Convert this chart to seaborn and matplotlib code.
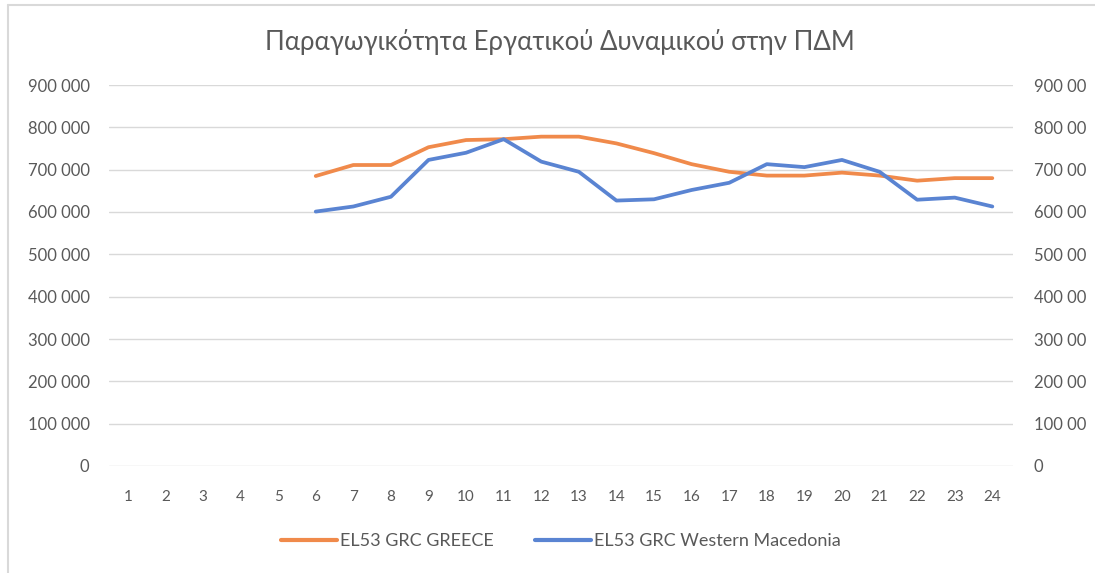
import matplotlib
matplotlib.use("Agg")
import matplotlib.pyplot as plt
import seaborn as sns
import pandas as pd
from matplotlib.lines import Line2D

# ---- data ----
periods = list(range(1, 25))
greece = [None] * 5 + [685000, 711000, 711000, 753000, 770000, 772000, 778000, 778000,
                       762000, 739000, 713000, 695000, 686000, 686000, 693000, 686000,
                       674000, 680000, 680000]
west_mac = [None] * 5 + [601000, 613000, 636000, 723000, 740000, 772000, 719000, 695000,
                         627000, 630000, 652000, 669000, 713000, 706000, 723000, 695000,
                         629000, 634000, 613000]
series_names = ["EL53 GRC GREECE", "EL53 GRC Western Macedonia"]
title = "Παραγωγικότητα Εργατικού Δυναμικού στην ΠΔΜ"
y_ticks = [0, 100000, 200000, 300000, 400000, 500000, 600000, 700000, 800000, 900000]
left_labels = ["0", "100 000", "200 000", "300 000", "400 000", "500 000",
               "600 000", "700 000", "800 000", "900 000"]
right_labels = ["0", "100 00", "200 00", "300 00", "400 00", "500 00",
                "600 00", "700 00", "800 00", "900 00"]

df = pd.DataFrame({"period": periods * 2,
                   "value": greece + west_mac,
                   "series": [series_names[0]] * 24 + [series_names[1]] * 24}).dropna()

sns.set_theme(style="white")
plt.rcParams["font.family"] = ["Lato", "DejaVu Sans"]

grey = "#595959"
c_orange = "#F08A4B"
c_blue = "#5A84D2"
fig = plt.figure(figsize=(10.95, 5.73), dpi=100)
ax = fig.add_axes([109 / 1095, 1 - 466 / 573, (1013 - 109) / 1095, (466 - 85) / 573])

sns.lineplot(data=df, x="period", y="value", hue="series",
             palette=[c_orange, c_blue], linewidth=2.7, ax=ax, legend=False)

ax.set_xlim(0.5, 24.55)
ax.set_ylim(0, 900000)
ax.set_yticks(y_ticks)
ax.set_yticklabels(left_labels)
ax.set_xticks(periods)
ax.set_xticklabels([str(p) for p in periods])
ax.grid(axis="y", color="#D9D9D9", linewidth=1)
ax.set_axisbelow(True)
for s in ax.spines.values():
    s.set_visible(False)
ax.set_xlabel("")
ax.set_ylabel("")
ax.tick_params(axis="y", colors=grey, labelsize=12, length=0, pad=14)
ax.tick_params(axis="x", colors=grey, labelsize=11, length=0, pad=17)

ax2 = ax.twinx()
ax2.set_ylim(0, 900000)
ax2.set_yticks(y_ticks)
ax2.set_yticklabels(right_labels)
for s in ax2.spines.values():
    s.set_visible(False)
ax2.tick_params(axis="y", colors=grey, labelsize=12, length=0, pad=15)
ax2.grid(False)

fig.text(560 / 1095, 1 - 42 / 573, title, ha="center", va="center",
         fontsize=18.5, color=grey)

handles = [Line2D([0], [0], color=c_orange, lw=3),
           Line2D([0], [0], color=c_blue, lw=3)]
fig.legend(handles, series_names, loc="center", bbox_to_anchor=(561 / 1095, 1 - 541 / 573),
           ncol=2, frameon=False, fontsize=13, labelcolor=grey, handlelength=3.1,
           handletextpad=0.15, columnspacing=2.3)

# outer frame (left and top edges)
fig.add_artist(Line2D([8 / 1095, 8 / 1095], [0, 1 - 5 / 573], transform=fig.transFigure,
                      color="#D9D9D9", lw=1.5))
fig.add_artist(Line2D([8 / 1095, 1], [1 - 5 / 573, 1 - 5 / 573], transform=fig.transFigure,
                      color="#D9D9D9", lw=1.5))

fig.savefig("out.png", dpi=100)
